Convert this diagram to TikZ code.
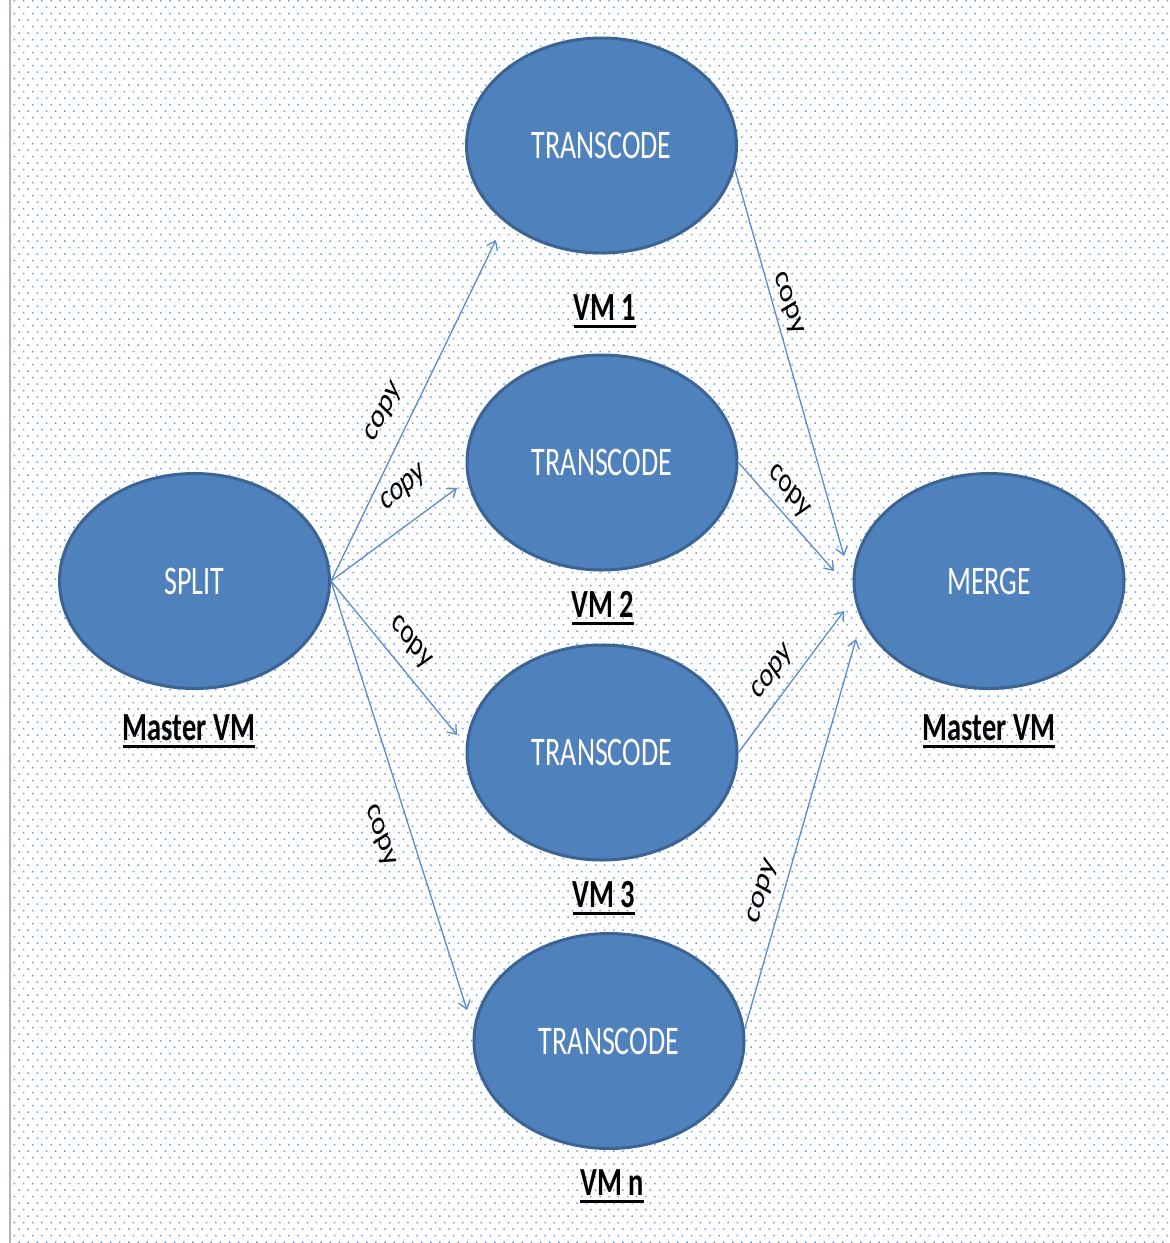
\documentclass[tikz,border=0pt]{standalone}
\usepackage{fontspec}
\setmainfont{Carlito}
\usepackage{graphicx}
\usetikzlibrary{shapes.geometric,arrows.meta,patterns}

\definecolor{nodefill}{HTML}{4F81BD}
\definecolor{nodeline}{HTML}{3B6494}
\definecolor{linkblue}{HTML}{5B8CCB}
\definecolor{dotblue}{HTML}{6F9BD3}
\definecolor{framegray}{HTML}{B4B4B4}

\pgfdeclarepatternformonly{bgdots}{\pgfpoint{-1pt}{-1pt}}{\pgfpoint{10pt}{14pt}}{\pgfpoint{9.15pt}{13pt}}{%
  \pgfpathrectangle{\pgfpoint{0pt}{0pt}}{\pgfpoint{1.5pt}{1.5pt}}%
  \pgfpathrectangle{\pgfpoint{4.575pt}{6.5pt}}{\pgfpoint{1.5pt}{1.5pt}}%
  \pgfusepath{fill}}

\newcommand\vstr[2][1.45]{\scalebox{1}[#1]{#2}}
\newcommand\ulabel[1]{\setbox0\hbox{\vstr[1.4]{#1}}\rlap{\raisebox{-7.5pt}{\rule{\wd0}{3pt}}}\box0}

\tikzset{
  proc/.style={ellipse, draw=nodeline, line width=3pt, fill=nodefill, text=white,
    inner sep=0pt, minimum width=270pt, minimum height=215pt,
    font=\fontsize{28}{32}\selectfont},
  vmlabel/.style={anchor=base, inner sep=0pt, font=\bfseries\fontsize{28.5}{32}\selectfont},
  link/.style={draw=linkblue, line width=1.3pt, -{Straight Barb[length=8pt,width=12pt]}},
  copylbl/.style={inner sep=0pt, font=\fontsize{25}{29}\selectfont},
}

\begin{document}
\begin{tikzpicture}[x=1pt,y=-1pt]
\useasboundingbox (0,0) rectangle (1170,1243);
\fill[white] (0,0) rectangle (1170,1243);
\fill[pattern=bgdots, pattern color=dotblue] (11,0) rectangle (1170,1243);
\draw[framegray, line width=1.5pt] (10,0) -- (10,1243);

% nodes
\node[proc] (t1) at (601.5,145.5) {\vstr{TRANSCODE}};
\node[proc] (t2) at (602,462.5) {\vstr{TRANSCODE}};
\node[proc] (t3) at (602,752.5) {\vstr{TRANSCODE}};
\node[proc] (tn) at (609,1041) {\vstr{TRANSCODE}};
\node[proc] (split) at (194.5,581) {\vstr{SPLIT}};
\node[proc] (merge) at (989,581) {\vstr{MERGE}};

% labels
\node[vmlabel] (vm1) at (605,320) {\ulabel{VM 1}};
\node[vmlabel] (vm2) at (603,617) {\ulabel{VM 2}};
\node[vmlabel] (vm3) at (604,907) {\ulabel{VM 3}};
\node[vmlabel] (vmn) at (612,1195) {\ulabel{VM n}};
\node[vmlabel] (mvl) at (189,740) {\ulabel{Master VM}};
\node[vmlabel] (mvr) at (989,740) {\ulabel{Master VM}};

% arrow tips
\coordinate (a1) at (496,240);
\coordinate (a2) at (457,488);
\coordinate (a3) at (457,735);
\coordinate (a4) at (467,1010);
\coordinate (b1) at (844,556);
\coordinate (b2) at (834,571);
\coordinate (b3) at (844,611);
\coordinate (b4) at (856,639);

% connectors
\draw[link] (split.east) -- (a1);
\draw[link] (split.east) -- (a2);
\draw[link] (split.east) -- (a3);
\draw[link] (split.east) -- (a4);
\draw[link] (t1.-10) -- (b1);
\draw[link] (t2.east) -- (b2);
\draw[link] (t3.east) -- (b3);
\draw[link] (tn.5) -- (b4);

% copy labels
\node[copylbl, yscale=1.4, rotate=55] (c1) at (384,413) {copy};
\node[copylbl, yscale=1.4, rotate=32] (c2) at (404,489) {copy};
\node[copylbl, yscale=1.4, rotate=-42] (c3) at (411,643) {copy};
\node[copylbl, yscale=1.4, rotate=-65] (c4) at (380,836) {copy};
\node[copylbl, yscale=1.4, rotate=-67] (c5) at (788,304) {copy};
\node[copylbl, yscale=1.4, rotate=-42] (c6) at (789,492) {copy};
\node[copylbl, yscale=1.4, rotate=45] (c7) at (773,673) {copy};
\node[copylbl, yscale=1.4, rotate=68] (c8) at (763,892) {copy};
\end{tikzpicture}
\end{document}
